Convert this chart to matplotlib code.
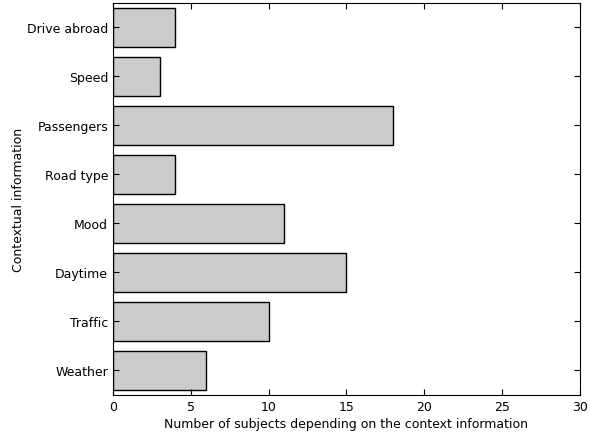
import matplotlib
matplotlib.use('Agg')
import matplotlib.pyplot as plt

# contextual information categories (bottom to top)
categories = ['Weather', 'Traffic', 'Daytime', 'Mood', 'Road type',
              'Passengers', 'Speed', 'Drive abroad']
subjects = [6, 10, 15, 11, 4, 18, 3, 4]
xticks = [0, 5, 10, 15, 20, 25, 30]

fig, ax = plt.subplots(figsize=(5.9, 4.39), dpi=100)
fig.subplots_adjust(left=0.1915, right=0.983, top=0.991, bottom=0.098)

pos = range(len(categories))
ax.barh(pos, subjects, height=0.8, color='#cccccc', edgecolor='black', linewidth=1)
ax.set_yticks(list(pos))
ax.set_yticklabels(categories)
ax.set_ylim(-0.5, len(categories) - 0.5)
ax.set_xlim(0, 30)
ax.set_xticks(xticks)
ax.tick_params(direction='in', top=True, right=True, length=4, labelsize=9)
ax.set_xlabel('Number of subjects depending on the context information', fontsize=9, labelpad=3)
ax.set_ylabel('Contextual information', fontsize=9, labelpad=1)

fig.savefig('out.png', dpi=100)
